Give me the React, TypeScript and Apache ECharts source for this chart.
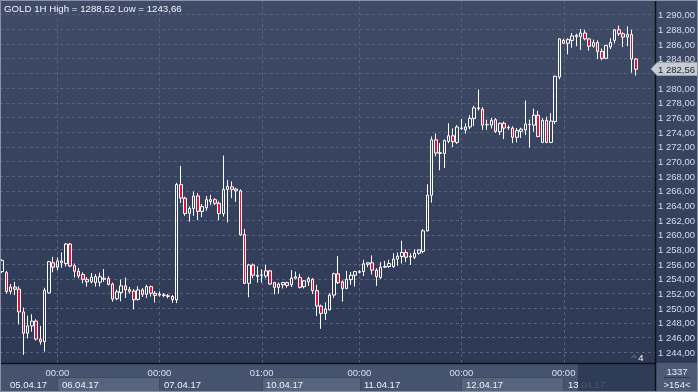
import React, { useEffect, useRef } from 'react';
import * as echarts from 'echarts';

const opens = [1255.0,1254.85,1252.3,1252.9,1252.6,1249.5,1246.6,1247.6,1248.25,1245.8,1245.45,1252.1,1256.2,1255.6,1256.2,1256.1,1258.75,1255.8,1255.05,1254.6,1253.95,1253.6,1253.5,1253.55,1253.95,1254.05,1253.3,1251.3,1252.15,1253.05,1252.55,1252.35,1251.2,1252.5,1251.9,1252.95,1252.05,1251.8,1251.75,1251.7,1251.6,1251.15,1266.85,1265.0,1262.95,1263.6,1265.3,1263.2,1263.7,1264.55,1264.8,1264.3,1262.9,1266.2,1266.55,1266.25,1266.0,1260.05,1253.4,1255.9,1254.35,1254.5,1254.4,1255.1,1253.5,1252.85,1253.2,1253.5,1253.2,1254.1,1254.2,1252.95,1253.6,1253.95,1252.4,1250.3,1249.3,1249.8,1251.8,1254.7,1253.6,1252.7,1253.9,1254.5,1254.9,1255.0,1256.0,1256.2,1255.2,1254.2,1255.6,1255.7,1255.7,1256.7,1257.05,1257.6,1257.0,1256.95,1257.5,1257.75,1260.55,1265.4,1272.95,1271.1,1271.1,1272.75,1273.5,1272.6,1274.5,1274.3,1274.7,1275.85,1277.2,1277.1,1275.0,1274.95,1275.7,1274.05,1275.2,1274.6,1274.55,1273.3,1274.1,1274.3,1275.0,1274.95,1276.3,1272.6,1275.6,1272.6,1275.45,1281.5,1286.5,1286.1,1286.5,1287.0,1287.0,1287.5,1286.7,1285.7,1286.2,1285.0,1284.05,1285.6,1286.5,1287.95,1287.4,1286.95,1287.3,1283.95];
const closes = [1256.5,1252.3,1252.9,1252.6,1249.5,1246.6,1247.6,1248.25,1245.8,1245.45,1252.45,1256.35,1255.6,1256.45,1256.45,1258.75,1255.75,1255.05,1254.4,1253.95,1253.6,1254.25,1254.3,1254.3,1254.1,1253.25,1251.25,1252.25,1253.05,1252.5,1252.3,1251.15,1252.5,1251.9,1252.95,1252.05,1251.75,1251.95,1251.82,1251.62,1251.2,1266.85,1265.0,1262.9,1263.6,1265.3,1263.2,1263.85,1264.8,1264.8,1264.3,1262.9,1266.2,1266.6,1266.2,1266.0,1260.0,1253.4,1255.9,1254.5,1254.5,1254.55,1255.1,1253.3,1252.85,1253.3,1253.5,1253.1,1254.1,1254.3,1252.85,1253.75,1254.05,1252.4,1250.3,1249.3,1249.9,1251.8,1254.7,1253.5,1252.7,1253.95,1254.5,1255.0,1255.0,1256.05,1256.2,1255.2,1254.3,1255.6,1255.7,1256.1,1256.7,1257.1,1257.6,1256.95,1257.1,1257.5,1257.95,1260.55,1265.4,1272.95,1271.15,1271.2,1272.85,1273.5,1272.7,1274.7,1274.55,1274.7,1275.85,1277.3,1277.3,1274.95,1275.05,1275.6,1274.1,1275.2,1274.55,1274.65,1273.3,1274.2,1274.4,1275.1,1275.05,1276.3,1273.4,1275.6,1272.6,1275.5,1281.6,1286.7,1286.1,1286.6,1287.1,1287.2,1287.5,1286.7,1285.7,1286.2,1285.0,1284.05,1285.8,1286.2,1287.95,1287.4,1286.95,1287.3,1283.95,1282.56];
const lows = [1254.8,1252.0,1251.9,1251.8,1247.8,1243.66,1245.9,1246.8,1245.6,1245.05,1244.1,1252.0,1254.9,1255.2,1255.5,1255.7,1255.6,1254.2,1254.1,1253.4,1252.95,1253.4,1252.95,1252.95,1253.6,1253.1,1250.9,1251.1,1250.95,1251.4,1252.0,1249.85,1251.05,1251.55,1251.4,1251.6,1250.8,1251.6,1251.5,1251.35,1250.75,1250.7,1264.35,1262.6,1261.8,1262.6,1262.0,1262.4,1263.3,1264.1,1264.05,1262.0,1262.5,1261.7,1265.0,1264.5,1259.9,1253.3,1251.5,1254.1,1253.5,1253.5,1254.1,1253.2,1251.9,1252.0,1252.7,1252.8,1252.9,1253.95,1252.7,1252.7,1253.05,1251.95,1248.95,1247.2,1248.4,1249.7,1251.4,1253.3,1250.9,1252.6,1253.2,1252.95,1254.75,1254.4,1255.6,1254.6,1253.05,1254.0,1255.5,1255.5,1255.5,1255.8,1256.1,1256.3,1255.9,1256.7,1257.3,1257.5,1260.45,1264.4,1270.7,1268.8,1269.1,1272.5,1271.95,1272.4,1274.3,1273.8,1274.4,1274.85,1276.95,1274.3,1274.3,1274.5,1273.9,1273.6,1273.05,1274.3,1272.5,1272.6,1273.2,1273.6,1271.9,1274.05,1273.3,1272.5,1272.5,1272.5,1275.1,1281.2,1286.05,1284.6,1285.5,1285.7,1285.2,1286.5,1285.1,1285.5,1283.95,1283.8,1283.95,1285.3,1286.1,1287.1,1285.6,1285.7,1282.1,1281.7];
const highs = [1256.7,1255.1,1253.3,1253.6,1253.0,1250.1,1249.0,1249.2,1248.5,1247.6,1252.8,1256.45,1257.0,1256.95,1257.6,1258.9,1258.9,1256.1,1255.5,1254.9,1254.25,1254.8,1254.65,1254.85,1255.35,1254.35,1253.5,1252.55,1253.9,1254.2,1252.9,1252.6,1253.0,1252.75,1253.2,1253.1,1252.35,1252.3,1252.05,1251.95,1251.8,1267.1,1269.4,1265.2,1263.9,1265.9,1265.7,1264.2,1265.3,1265.45,1265.0,1264.6,1270.8,1267.5,1267.3,1266.4,1266.2,1260.8,1256.05,1256.1,1255.7,1255.3,1255.9,1255.2,1253.6,1253.5,1253.6,1253.6,1255.2,1255.0,1254.7,1253.85,1254.3,1254.1,1253.2,1250.5,1250.8,1252.05,1254.85,1257.1,1253.8,1255.1,1254.95,1255.1,1255.2,1256.6,1256.3,1257.2,1255.45,1256.3,1256.45,1256.6,1257.5,1257.6,1259.2,1258.0,1257.5,1258.0,1258.05,1260.8,1266.9,1273.4,1273.8,1272.5,1273.0,1275.2,1274.5,1274.95,1275.8,1275.2,1276.3,1277.6,1279.8,1277.4,1275.7,1275.95,1275.9,1275.3,1275.45,1274.9,1274.8,1274.55,1274.6,1278.3,1275.7,1277.2,1276.9,1275.9,1276.1,1276.6,1281.7,1286.8,1286.7,1286.8,1287.5,1287.4,1288.05,1287.95,1286.8,1286.6,1286.5,1285.4,1285.9,1286.8,1288.05,1288.52,1287.6,1288.4,1287.95,1284.1];

const dayLabels = ['05.04.17', '06.04.17', '07.04.17', '10.04.17', '11.04.17', '12.04.17', '13.04.17'];
const dayStarts = [0, 13, 37, 61, 84, 108, 132];
const dayOpenTimes = ['', '00:00', '00:00', '01:00', '00:00', '00:00', '00:00'];
const totalSlots = 154;
const lastPrice = 1282.56;
const titleText = 'GOLD 1H High = 1288,52 Low = 1243,66';
const barsTotal = '1337';
const barsShown = '>154<';
const shiftText = '4';

const W = 698;
const H = 392;
const PLOT_R = 655;
const BAND_T = 363;
const FONT = '"Liberation Sans", Arial, sans-serif';

function fmt(v: number): string {
  const s = v.toFixed(2);
  const [i, d] = s.split('.');
  const withSp = i.replace(/\B(?=(\d{3})+(?!\d))/g, ' ');
  return withSp + ',' + d;
}

function txt(text: string, x: number, y: number, fill: string, align = 'left', size = 9, z = 30) {
  return {
    type: 'text', silent: true, z,
    style: {
      text, x, y, fill, font: `${size}px ${FONT}`,
      align, textAlign: align, verticalAlign: 'middle', textVerticalAlign: 'middle',
    },
  };
}

export default function App() {
  const ref = useRef<HTMLDivElement>(null);
  useEffect(() => {
    if (!ref.current) return;
    const chart = echarts.init(ref.current, null, { renderer: 'svg' });
    const cats = Array.from({ length: totalSlots }, (_, i) => String(i));
    const data = opens.map((o, i) => [o, closes[i], lows[i], highs[i]]);
    const hiddenTick = Math.floor(lastPrice / 2) * 2;
    chart.setOption({
      animation: false,
      grid: { left: 0, right: W - PLOT_R, top: 0, height: 367, containLabel: false },
      xAxis: {
        type: 'category', data: cats, boundaryGap: true,
        axisLine: { show: false }, axisTick: { show: false }, axisLabel: { show: false },
        splitLine: { show: false },
      },
      yAxis: {
        type: 'value', position: 'right', min: 1242, max: 1292, interval: 2, scale: true,
        axisLine: { show: false }, axisTick: { show: false },
        axisLabel: {
          margin: 3, color: '#d3ddee', fontSize: 9.5, fontFamily: FONT,
          formatter: (v: number) => (v < 1243 || v > 1291 || v === hiddenTick ? '' : fmt(v)),
        },
        splitLine: { show: true, lineStyle: { color: '#56637e', type: [3, 3], width: 1 } },
      },
      series: [{
        type: 'candlestick', data, barWidth: 3,
        itemStyle: {
          color: 'rgba(0,0,0,0)', color0: '#e3123d',
          borderColor: '#ffffff', borderColor0: '#ffffff', borderWidth: 1,
        },
      }],
    });

    const px = (i: number) => chart.convertToPixel({ xAxisIndex: 0 }, i) as number;
    const py = (v: number) => chart.convertToPixel({ yAxisIndex: 0 }, v) as number;
    const g: any[] = [];
    g.push({
      type: 'rect', silent: true, z: -10,
      shape: { x: 0, y: 0, width: W, height: H },
      style: {
        fill: new echarts.graphic.LinearGradient(0, 0, 0, 1, [
          { offset: 0, color: '#3f4b67' }, { offset: 1, color: '#2b3753' },
        ]),
      },
    });
    dayStarts.forEach((s, k) => {
      if (k === 0) return;
      const x = Math.round(px(s)) + 0.5;
      g.push({
        type: 'line', silent: true, z: -5,
        shape: { x1: x, y1: 0, x2: x, y2: BAND_T },
        style: { stroke: '#56637e', lineWidth: 1, lineDash: [3, 3] },
      });
    });
    // bottom band
    g.push({ type: 'rect', silent: true, z: 10, shape: { x: 0, y: BAND_T, width: PLOT_R, height: H - BAND_T }, style: { fill: '#45536e' } });
    dayStarts.forEach((s, k) => {
      if (k % 2 === 1) {
        const x0 = px(s);
        const x1 = k + 1 < dayStarts.length ? px(dayStarts[k + 1]) : PLOT_R;
        g.push({ type: 'rect', silent: true, z: 11, shape: { x: Math.round(x0) + 0.5, y: 377.5, width: Math.round(x1 - x0), height: 15 }, style: { fill: '#56647e', stroke: '#3d4a63', lineWidth: 1 } });
      }
    });
    dayStarts.forEach((s, k) => {
      const x = px(s);
      if (dayOpenTimes[k]) g.push(txt(dayOpenTimes[k], x, 372, '#d6e0f0', 'center', 9.5, 12));
      g.push(txt(dayLabels[k], k === 0 ? 10 : x + 4.5, 384, '#eef2f8', 'left', 9.5, 12));
    });
    g.push({ type: 'rect', silent: true, z: 13, shape: { x: 578, y: BAND_T, width: PLOT_R - 578, height: H - BAND_T }, style: { fill: 'rgba(44,56,84,0.85)' } });
    g.push({ type: 'line', silent: true, z: 14, shape: { x1: 0, y1: BAND_T + 0.5, x2: PLOT_R, y2: BAND_T + 0.5 }, style: { stroke: '#0d1119', lineWidth: 1.5 } });
    // right bottom box
    g.push({ type: 'rect', silent: true, z: 10, shape: { x: PLOT_R, y: BAND_T, width: W - PLOT_R, height: H - BAND_T }, style: { fill: '#4c5a75' } });
    g.push(txt(barsTotal, 677, 371, '#e6ecf5', 'center', 9.5, 12));
    g.push({ type: 'line', silent: true, z: 12, shape: { x1: 664, y1: 377.5, x2: 690, y2: 377.5 }, style: { stroke: '#2e3a52', lineWidth: 1 } });
    g.push(txt(barsShown, 677, 384, '#e6ecf5', 'center', 9.5, 12));
    // right axis line
    g.push({ type: 'line', silent: true, z: 15, shape: { x1: PLOT_R + 0.5, y1: 0, x2: PLOT_R + 0.5, y2: H }, style: { stroke: '#0d1119', lineWidth: 1.5 } });
    // shift indicator
    g.push({ type: 'polygon', silent: true, z: 12, shape: { points: [[630, 358], [634, 354], [638, 358]] }, style: { fill: '#4a5670' } });
    g.push(txt(shiftText, 641, 357, '#f0f4fa', 'center', 9.5, 12));
    // price tag
    const yp = Math.round(py(lastPrice));
    g.push({ type: 'polygon', silent: true, z: 20, shape: { points: [[651, yp], [657, yp - 6.5], [698, yp - 6.5], [698, yp + 6.5], [657, yp + 6.5]] }, style: { fill: '#c7cbd2', stroke: '#9aa0aa', lineWidth: 1 } });
    g.push(txt(fmt(lastPrice), 658, yp + 0.5, '#1b2233', 'left', 9.5, 21));
    // title
    g.push(txt(titleText, 4, 8, '#f2f5fa', 'left', 9.7, 30));
    // border
    g.push({ type: 'rect', silent: true, z: 40, shape: { x: 0.5, y: 0.5, width: W - 1, height: H - 1 }, style: { fill: 'none', stroke: '#8a93a4', lineWidth: 1 } });
    chart.setOption({ graphic: g });
    return () => chart.dispose();
  }, []);
  return <div ref={ref} style={{ position: 'fixed', left: 0, top: 0, width: W, height: H }} />;
}
